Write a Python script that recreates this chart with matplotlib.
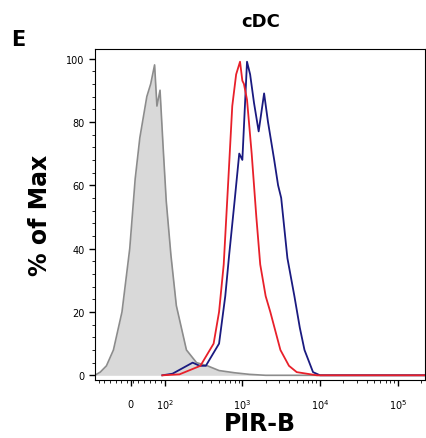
import numpy as np
import matplotlib.pyplot as plt

# x in decade units (10^2 -> 2, 10^3 -> 3 ...), y in % of Max
gray_x = [1.10, 1.17, 1.25, 1.34, 1.45, 1.50, 1.55, 1.62, 1.68, 1.77, 1.82, 1.87, 1.90, 1.94, 1.98, 2.02, 2.08, 2.15, 2.28, 2.41, 2.55, 2.70, 2.90, 3.09, 3.3, 5.35]
gray_y = [0, 1, 3, 8, 20, 30, 40, 62, 75, 88, 92, 98, 85, 90, 72, 55, 38, 22, 8, 4, 3, 1.5, 0.8, 0.3, 0, 0]
red_x = [1.97, 2.19, 2.46, 2.63, 2.70, 2.76, 2.82, 2.87, 2.92, 2.97, 3.00, 3.02, 3.06, 3.12, 3.18, 3.23, 3.30, 3.36, 3.49, 3.60, 3.70, 3.96, 5.35]
red_y = [0, 0.3, 3, 10, 20, 35, 62, 85, 95, 99, 93, 92, 87, 70, 50, 35, 25, 20, 8, 3, 1, 0, 0]
blue_x = [1.97, 2.10, 2.36, 2.45, 2.53, 2.70, 2.78, 2.83, 2.90, 2.96, 3.00, 3.06, 3.10, 3.15, 3.21, 3.28, 3.33, 3.41, 3.46, 3.50, 3.58, 3.67, 3.74, 3.80, 3.91, 4.0, 5.35]
blue_y = [0, 0.5, 4, 3, 3, 10, 25, 38, 55, 70, 68, 99, 95, 86, 77, 89, 80, 68, 60, 56, 37, 25, 15, 8, 1, 0, 0]

tick_pos = [1.56, 2, 3, 4, 5]
tick_lab = ["$0$", "$10^2$", "$10^3$", "$10^4$", "$10^5$"]

fig = plt.figure(figsize=(4.27, 4.39), dpi=100)
ax = fig.add_axes([0.222, 0.132, 0.773, 0.754])

ax.fill_between(gray_x, gray_y, color="#d9d9d9", lw=0)
ax.plot(gray_x, gray_y, color="#8c8c8c", lw=1.2)
ax.plot(blue_x, blue_y, color="#1a1a80", lw=1.3)
ax.plot(red_x, red_y, color="#e8202a", lw=1.3)

ax.set_xlim(1.10, 5.35)
ax.set_ylim(-1.5, 103)
ax.set_xticks(tick_pos)
ax.set_xticklabels(tick_lab, fontsize=7)
minor = [np.log10(m * 10**d) for d in range(2, 6) for m in range(2, 10)]
minor = [m for m in minor if m < 5.35]
ax.set_xticks(minor + list(np.linspace(1.15, 1.95, 12)), minor=True)
ax.set_yticks([0, 20, 40, 60, 80, 100])
ax.set_yticks(np.arange(0, 101, 4), minor=True)
ax.tick_params(labelsize=7, length=4, width=1)
ax.tick_params(which="minor", length=2)
ax.tick_params(axis="x", pad=8)

ax.set_xlabel("PIR-B", fontsize=17, fontweight="bold", labelpad=0)
ax.set_ylabel("% of Max", fontsize=17, fontweight="bold", labelpad=10)
fig.text(0.61, 0.95, "cDC", fontsize=13, fontweight="bold", ha="center", va="center")
fig.text(0.025, 0.91, "E", fontsize=15, fontweight="bold", ha="left", va="center")

fig.savefig("out.png", dpi=100)
